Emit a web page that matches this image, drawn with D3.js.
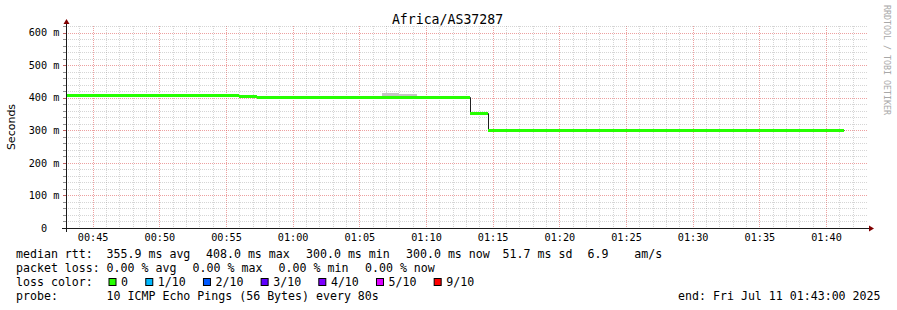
<!DOCTYPE html>
<html>
<head>
<meta charset="utf-8">
<script src="https://cdn.jsdelivr.net/npm/d3@7"></script>
<style>
    body { margin: 0; background: #fff; }
    svg { display: block; }
    text { font-family: "DejaVu Sans Mono", monospace; fill: #000; }
</style>
</head>
<body>
<script>
const title = "Africa/AS37287";
const yLabel = "Seconds";
const startTime = "2025-07-11 00:43:00";
const endTime = "2025-07-11 01:43:00";
const firstStepEnd = "2025-07-11 00:44:00";
const stepSeconds = 80;

// median rtt per 80s step (ms)
const medianRtt = [
    408, 408, 408, 408, 408, 408, 408, 408, 408, 408,
    405,
    403, 403, 403, 403, 403, 403, 403, 403, 403, 403, 403, 403,
    352,
    300, 300, 300, 300, 300, 300, 300, 300, 300, 300,
    300, 300, 300, 300, 300, 300, 300, 300, 300, 300
];

// visible ping spread ("smoke")
const smokeEnd = ["2025-07-11 01:08:00", "2025-07-11 01:09:20"];
const smokeLow = [402, 402];
const smokeHigh = [415, 411];

const yTicks = [0, 100, 200, 300, 400, 500, 600];

const lossLabels = ["0", "1/10", "2/10", "3/10", "4/10", "5/10", "9/10"];
const lossColors = ["#26ff00", "#00b8ff", "#0059ff", "#5e00ff", "#7e00ff", "#dd00ff", "#ff0000"];

const rttLegend = ["355.9 ms avg", "408.0 ms max", "300.0 ms min", "300.0 ms now", "51.7 ms sd", "6.9", "am/s"];
const lossLegend = ["0.00 % avg", "0.00 % max", "0.00 % min", "0.00 % now"];
const probeText = "10 ICMP Echo Pings (56 Bytes) every 80s";
const endText = "end: Fri Jul 11 01:43:00 2025";

const svgWidth = 897, svgHeight = 310;
const plotLeft = 66, plotRight = 866, plotTop = 26, plotBottom = 228;

const parse = d3.timeParse("%Y-%m-%d %H:%M:%S");

const svg = d3.select("body")
    .append("svg")
    .attr("width", svgWidth)
    .attr("height", svgHeight);

const xScale = d3.scaleTime()
    .domain([parse(startTime), parse(endTime)])
    .range([plotLeft, plotRight]);

const yScale = d3.scaleLinear()
    .domain([0, 620])
    .range([plotBottom, plotTop]);

const px = v => Math.round(v);

const steps = medianRtt.map((v, i) => {
    const end = d3.timeSecond.offset(parse(firstStepEnd), i * stepSeconds);
    return { start: d3.timeSecond.offset(end, -stepSeconds), end: end, value: v };
});

// grid (under the data)
const grid = svg.append("g");
const minorColor = "rgba(140,140,140,0.37)";
const majorColor = "rgba(222,79,79,0.54)";

const minuteTicks = d3.timeMinute.range(d3.timeMinute.offset(parse(startTime), 1), parse(endTime));
grid.selectAll("line.vx")
    .data(minuteTicks)
    .enter()
    .append("line")
    .attr("x1", d => px(xScale(d)) + 0.5)
    .attr("x2", d => px(xScale(d)) + 0.5)
    .attr("y1", plotTop)
    .attr("y2", plotBottom)
    .attr("stroke", d => d.getMinutes() % 5 === 0 ? majorColor : minorColor)
    .attr("stroke-dasharray", "1,1");

const yGrid = d3.range(20, 621, 20);
grid.selectAll("line.hy")
    .data(yGrid)
    .enter()
    .append("line")
    .attr("x1", plotLeft)
    .attr("x2", plotRight + 2)
    .attr("y1", d => px(yScale(d)) + 0.5)
    .attr("y2", d => px(yScale(d)) + 0.5)
    .attr("stroke", d => d % 100 === 0 ? majorColor : minorColor)
    .attr("stroke-dasharray", "1,1");

// little ticks left of the y axis
grid.selectAll("line.ty")
    .data(yGrid)
    .enter()
    .append("line")
    .attr("x1", plotLeft - 3)
    .attr("x2", plotLeft)
    .attr("y1", d => px(yScale(d)) + 0.5)
    .attr("y2", d => px(yScale(d)) + 0.5)
    .attr("stroke", d => d % 100 === 0 ? "#c06060" : "#909090");

svg.append("clipPath").attr("id", "plotclip")
    .append("rect")
    .attr("x", plotLeft).attr("y", plotTop - 4)
    .attr("width", plotRight - plotLeft).attr("height", plotBottom - plotTop + 4);

const plot = svg.append("g").attr("clip-path", "url(#plotclip)");

// smoke
plot.selectAll("rect.smoke")
    .data(smokeEnd.map((e, i) => ({ end: parse(e), lo: smokeLow[i], hi: smokeHigh[i] })))
    .enter()
    .append("rect")
    .attr("class", "smoke")
    .attr("x", d => px(xScale(d3.timeSecond.offset(d.end, -stepSeconds))))
    .attr("width", d => px(xScale(d.end)) - px(xScale(d3.timeSecond.offset(d.end, -stepSeconds))))
    .attr("y", d => px(yScale(d.hi)))
    .attr("height", d => px(yScale(d.lo)) - px(yScale(d.hi)))
    .attr("fill", "#c4c4c4");

// median line (black, 1px)
const linePts = steps.map(s => [s.start, s.value]);
linePts.push([steps[steps.length - 1].end, steps[steps.length - 1].value]);
plot.append("path")
    .datum(linePts)
    .attr("fill", "none")
    .attr("stroke", "#202020")
    .attr("stroke-width", 1)
    .attr("d", d3.line()
        .x(d => px(xScale(d[0])) + 0.5)
        .y(d => px(yScale(d[1])) + 0.5)
        .curve(d3.curveStepAfter));

// loss-coloured median bands
plot.selectAll("rect.med")
    .data(steps)
    .enter()
    .append("rect")
    .attr("class", "med")
    .attr("x", d => px(xScale(d.start)))
    .attr("width", d => px(xScale(d.end)) - px(xScale(d.start)))
    .attr("y", d => px(yScale(d.value)) - 1)
    .attr("height", 3)
    .attr("fill", lossColors[0]);

// axes lines + arrows
const axisColor = "#1a1a1a", arrowColor = "#800000";
svg.append("line")
    .attr("x1", plotLeft - 4).attr("x2", plotRight + 4)
    .attr("y1", plotBottom + 0.5).attr("y2", plotBottom + 0.5)
    .attr("stroke", axisColor);
svg.append("line")
    .attr("x1", plotLeft + 0.5).attr("x2", plotLeft + 0.5)
    .attr("y1", plotBottom + 4).attr("y2", plotTop - 4)
    .attr("stroke", axisColor);
svg.append("path")
    .attr("d", `M${plotRight + 3},${plotBottom - 2.5}L${plotRight + 3},${plotBottom + 3.5}L${plotRight + 8},${plotBottom + 0.5}Z`)
    .attr("fill", arrowColor);
svg.append("path")
    .attr("d", `M${plotLeft - 2.5},${plotTop - 2}L${plotLeft + 3.5},${plotTop - 2}L${plotLeft + 0.5},${plotTop - 7}Z`)
    .attr("fill", arrowColor);

// x axis labels
const xAxis = svg.append("g")
    .attr("transform", `translate(0,${plotBottom})`)
    .call(d3.axisBottom(xScale)
        .tickValues(d3.timeMinute.every(5).range(parse(startTime), parse(endTime)))
        .tickFormat(d3.timeFormat("%H:%M"))
        .tickSize(0)
        .tickPadding(5.8));
xAxis.select(".domain").remove();
xAxis.selectAll("text")
    .attr("font-family", "DejaVu Sans Mono")
    .attr("font-size", "10.2px")
    .attr("fill", "#000");

// y axis labels
const yAxis = svg.append("g")
    .attr("transform", "translate(59.3,0)")
    .call(d3.axisLeft(yScale)
        .tickValues(yTicks)
        .tickFormat(d => d === 0 ? "0  " : d + " m")
        .tickSize(0)
        .tickPadding(0));
yAxis.select(".domain").remove();
yAxis.selectAll("text")
    .attr("xml:space", "preserve")
    .style("white-space", "pre")
    .attr("font-family", "DejaVu Sans Mono")
    .attr("font-size", "10.2px")
    .attr("fill", "#000");

// title
svg.append("text")
    .attr("x", 447.5).attr("y", 24)
    .attr("text-anchor", "middle")
    .attr("font-size", "13.2px")
    .text(title);

// y label
svg.append("text")
    .attr("transform", "translate(15,127) rotate(-90)")
    .attr("text-anchor", "middle")
    .style("font-family", "'DejaVu Sans', sans-serif")
    .attr("font-size", "11px")
    .text(yLabel);

// watermark
svg.append("text")
    .attr("transform", "translate(884,5) rotate(90)")
    .attr("font-size", "8.3px")
    .style("fill", "#a8a8a8")
    .text("RRDTOOL / TOBI OETIKER");

// legend
const legendFont = "11.6px";
const legend = svg.append("g").attr("font-size", legendFont);
const col2 = 106.6;

const rttX = [col2, 206, 306, 406, 502.6, 587.6, 634.3];
legend.append("text").attr("x", 16).attr("y", 258).text("median rtt:");
legend.selectAll("text.rtt")
    .data(rttLegend)
    .enter()
    .append("text")
    .attr("class", "rtt")
    .attr("x", (d, i) => rttX[i])
    .attr("y", 258)
    .text(d => d);

const lossX = [col2, 192.6, 278.6, 365];
legend.append("text").attr("x", 16).attr("y", 272).text("packet loss:");
legend.selectAll("text.loss")
    .data(lossLegend)
    .enter()
    .append("text")
    .attr("class", "loss")
    .attr("x", (d, i) => lossX[i])
    .attr("y", 272)
    .text(d => d);

legend.append("text").attr("x", 16).attr("y", 286).text("loss color:");
const charW = 6.97;
let bx = 108.5;
const boxX = lossLabels.map(l => {
    const x0 = bx;
    bx += 12.6 + l.length * charW + 17.2;
    return x0;
});
const items = legend.selectAll("g.lc")
    .data(lossLabels)
    .enter()
    .append("g")
    .attr("class", "lc")
    .attr("transform", (d, i) => `translate(${boxX[i]},0)`);
items.append("rect")
    .attr("x", 0.5).attr("y", 278.5)
    .attr("width", 7).attr("height", 7)
    .attr("fill", (d, i) => lossColors[i])
    .attr("stroke", "#000")
    .attr("stroke-width", 1);
items.append("text")
    .attr("x", 12.6).attr("y", 286)
    .text(d => d);

legend.append("text").attr("x", 16).attr("y", 300).text("probe:");
legend.append("text").attr("x", col2).attr("y", 300).text(probeText);
legend.append("text").attr("x", 880.5).attr("y", 300).attr("text-anchor", "end").text(endText);
</script>
</body>
</html>
